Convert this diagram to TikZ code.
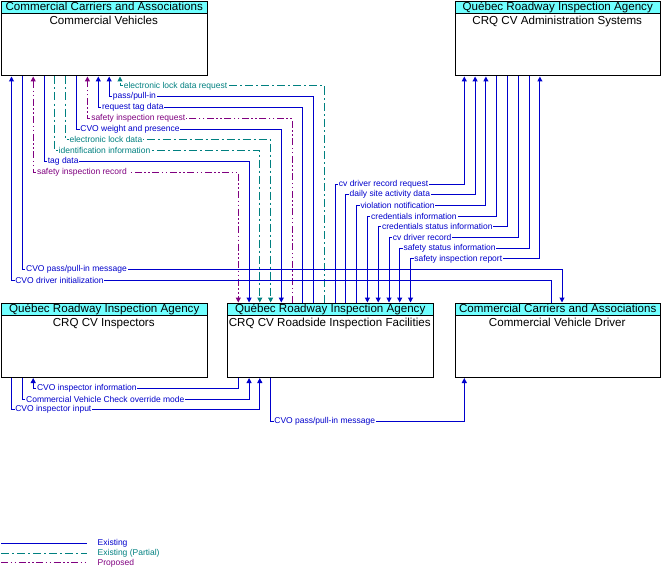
\documentclass[tikz,border=0pt]{standalone}
\usepackage{fontspec}
\setmainfont{Liberation Sans}
\usetikzlibrary{arrows.meta}
\definecolor{cblue}{RGB}{0,0,204}
\definecolor{cteal}{RGB}{0,128,128}
\definecolor{cpurple}{RGB}{128,0,128}
\definecolor{hdrcyan}{RGB}{112,255,255}
\newcommand{\lblfont}{\fontsize{8.5}{9}\selectfont}
\newcommand{\boxfont}{\fontsize{11.6}{13}\selectfont}
\begin{document}
\begin{tikzpicture}[x=1pt,y=-1pt,
  >={Triangle[width=5pt,length=5pt]},
  box/.style={draw=black, line width=1pt, anchor=north west, minimum width=205.5pt, minimum height=74.5pt, inner sep=0pt},
  hdr/.style={draw=black, line width=1pt, fill=hdrcyan, anchor=north west, minimum width=205.5pt, minimum height=12.5pt, inner sep=0pt, text height=8.5pt, text depth=2.2pt, font=\boxfont},
  nm/.style={anchor=base, inner sep=0pt, font=\boxfont},
  ex/.style={draw=cblue, line width=1pt},
  pa/.style={draw=cteal, line width=1pt, dash pattern=on 8pt off 3pt on 2pt off 3pt},
  pr/.style={draw=cpurple, line width=1pt, dash pattern=on 7pt off 2.5pt on 1.5pt off 2.5pt on 1.5pt off 2.5pt},
  lbl/.style={anchor=west, xshift=2.5pt, fill=white, inner sep=0.8pt, font=\lblfont},
  lbx/.style={lbl, text=cblue},
  lbp/.style={lbl, text=cteal},
  lbr/.style={lbl, text=cpurple},
  lg/.style={anchor=west, inner sep=0pt, font=\lblfont}
]
\useasboundingbox (0,0) rectangle (667,578);

% ---------- boxes ----------
\node[box] (cv) at (1,1) {};
\node[hdr] (cvh) at (1,1) {Commercial Carriers and Associations};
\node[nm] (cvn) at (103.75,24.5) {Commercial Vehicles};

\node[box] (adm) at (454.5,1) {};
\node[hdr] (admh) at (454.5,1) {Québec Roadway Inspection Agency};
\node[nm] (admn) at (557.25,24.5) {CRQ CV Administration Systems};

\node[box] (insp) at (1,302.5) {};
\node[hdr] (insph) at (1,302.5) {Québec Roadway Inspection Agency};
\node[nm] (inspn) at (103.75,326) {CRQ CV Inspectors};

\node[box] (rs) at (227,302.5) {};
\node[hdr] (rsh) at (227,302.5) {Québec Roadway Inspection Agency};
\node[nm] (rsn) at (329.75,326) {CRQ CV Roadside Inspection Facilities};

\node[box] (drv) at (454.5,302.5) {};
\node[hdr] (drvh) at (454.5,302.5) {Commercial Carriers and Associations};
\node[nm] (drvn) at (557.25,326) {Commercial Vehicle Driver};

% ---------- Roadside <-> Commercial Vehicles ----------
\draw[pa,->] (324.4,0 |- rs.north) -- (324.4,86) -- (120,86) node[lbp]{electronic lock data request} -- (120,0 |- cv.south);
\draw[ex,->] (313.6,0 |- rs.north) -- (313.6,96.75) -- (109.15,96.75) node[lbx]{pass/pull-in} -- (109.15,0 |- cv.south);
\draw[ex,->] (302.9,0 |- rs.north) -- (302.9,107.5) -- (98.3,107.5) node[lbx]{request tag data} -- (98.3,0 |- cv.south);
\draw[pr,->] (292.1,0 |- rs.north) -- (292.1,118.25) -- (87.45,118.25) node[lbr]{safety inspection request} -- (87.45,0 |- cv.south);
\draw[ex,->] (76.6,0 |- cv.south) -- (76.6,129) node[lbx]{CVO weight and presence} -- (281.3,129) -- (281.3,0 |- rs.north);
\draw[pa,->] (65.75,0 |- cv.south) -- (65.75,139.75) node[lbp]{electronic lock data} -- (270.6,139.75) -- (270.6,0 |- rs.north);
\draw[pa,->] (54.9,0 |- cv.south) -- (54.9,150.5) node[lbp]{identification information} -- (259.8,150.5) -- (259.8,0 |- rs.north);
\draw[ex,->] (44.05,0 |- cv.south) -- (44.05,161.25) node[lbx]{tag data} -- (249.1,161.25) -- (249.1,0 |- rs.north);
\draw[pr,<->] (33.2,0 |- cv.south) -- (33.2,172) node[lbr]{safety inspection record} -- (238.3,172) -- (238.3,0 |- rs.north);

% ---------- Roadside <-> Administration ----------
\draw[ex,->] (335.1,0 |- rs.north) -- (335.1,184) node[lbx]{cv driver record request} -- (464.3,184) -- (464.3,0 |- adm.south);
\draw[ex,->] (345.9,0 |- rs.north) -- (345.9,194.7) node[lbx]{daily site activity data} -- (475.1,194.7) -- (475.1,0 |- adm.south);
\draw[ex,->] (356.7,0 |- rs.north) -- (356.7,205.4) node[lbx]{violation notification} -- (485.9,205.4) -- (485.9,0 |- adm.south);
\draw[ex,->] (496.7,0 |- adm.south) -- (496.7,216.1) -- (367.4,216.1) node[lbx]{credentials information} -- (367.4,0 |- rs.north);
\draw[ex,->] (507.5,0 |- adm.south) -- (507.5,226.8) -- (378.2,226.8) node[lbx]{credentials status information} -- (378.2,0 |- rs.north);
\draw[ex,->] (518.3,0 |- adm.south) -- (518.3,237.5) -- (389.0,237.5) node[lbx]{cv driver record} -- (389.0,0 |- rs.north);
\draw[ex,->] (529.1,0 |- adm.south) -- (529.1,248.2) -- (399.7,248.2) node[lbx]{safety status information} -- (399.7,0 |- rs.north);
\draw[ex,<->] (539.9,0 |- adm.south) -- (539.9,258.9) -- (410.5,258.9) node[lbx]{safety inspection report} -- (410.5,0 |- rs.north);

% ---------- Commercial Vehicles <-> Driver ----------
\draw[ex,->] (22.35,0 |- cv.south) -- (22.35,269.6) node[lbx]{CVO pass/pull-in message} -- (562,269.6) -- (562,0 |- drv.north);
\draw[ex,->] (551.5,0 |- drv.north) -- (551.5,280.3) -- (11.5,280.3) node[lbx]{CVO driver initialization} -- (11.5,0 |- cv.south);

% ---------- bottom flows ----------
\draw[ex,->] (238.3,0 |- rs.south) -- (238.3,388.3) -- (33.2,388.3) node[lbx]{CVO inspector information} -- (33.2,0 |- insp.south);
\draw[ex,->] (22.35,0 |- insp.south) -- (22.35,399.3) node[lbx]{Commercial Vehicle Check override mode} -- (249.1,399.3) -- (249.1,0 |- rs.south);
\draw[ex,->] (11.5,0 |- insp.south) -- (11.5,409.3) node[lbx]{CVO inspector input} -- (259.8,409.3) -- (259.8,0 |- rs.south);
\draw[ex,->] (270.6,0 |- rs.south) -- (270.6,421) node[lbx]{CVO pass/pull-in message} -- (464.3,421) -- (464.3,0 |- drv.south);

% ---------- legend ----------
\coordinate (l1a) at (1,543.5);
\coordinate (l1b) at (87,543.5);
\coordinate (l2a) at (1,553.3);
\coordinate (l2b) at (87,553.3);
\coordinate (l3a) at (1,562.8);
\coordinate (l3b) at (87,562.8);
\draw[ex] (l1a) -- (l1b);
\draw[pa] (l2a) -- (l2b);
\draw[pr] (l3a) -- (l3b);
\node[lg, text=cblue] (lg1) at (97.5,543.5) {Existing};
\node[lg, text=cteal] (lg2) at (97.5,553.3) {Existing (Partial)};
\node[lg, text=cpurple] (lg3) at (97.5,562.8) {Proposed};
\end{tikzpicture}
\end{document}
